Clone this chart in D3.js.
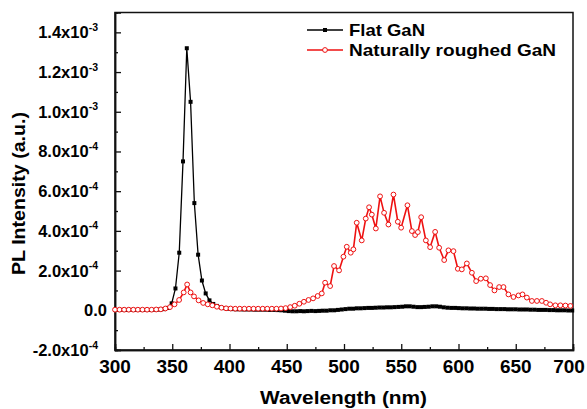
<!DOCTYPE html>
<html>
<head>
<meta charset="utf-8">
<script src="https://cdn.jsdelivr.net/npm/d3@7/dist/d3.min.js"></script>
<style>
  body { margin: 0; background: #fff; }
  svg { display: block; font-family: "Liberation Sans", Arial, sans-serif; font-weight: bold; }
</style>
</head>
<body>
<svg id="chart" width="587" height="409"></svg>
<script>
// axis ticks (intensity in units of 10^-3 a.u.)
const wavelengthTicks = [300, 350, 400, 450, 500, 550, 600, 650, 700]
const wavelengthMinor = [325, 375, 425, 475, 525, 575, 625, 675]
const intensityTicks = [-0.2, 0, 0.2, 0.4, 0.6, 0.8, 1.0, 1.2, 1.4]
const intensityMinor = [-0.1, 0.1, 0.3, 0.5, 0.7, 0.9, 1.1, 1.3]
const intensityLabels = [
  ["-2.0x10", "-4"], ["0.0", ""], ["2.0x10", "-4"], ["4.0x10", "-4"], ["6.0x10", "-4"],
  ["8.0x10", "-4"], ["1.0x10", "-3"], ["1.2x10", "-3"], ["1.4x10", "-3"]
]
const seriesNames = ["Flat GaN", "Naturally roughed GaN"]

// Flat GaN
const flatWl = [
  300.0, 303.3, 306.6, 309.9, 313.2, 316.5, 319.8, 323.1, 326.4, 329.7, 333.0, 336.3, 339.6, 342.9, 346.2,
  349.5, 352.8, 356.1, 359.4, 362.7, 366.0, 369.3, 372.6, 375.9, 379.2, 382.5, 385.8, 389.1, 392.4, 395.7, 399.0,
  402.3, 405.6, 408.9, 412.2, 415.5, 418.8, 422.1, 425.4, 428.7, 432.0, 435.3, 438.6, 441.9, 445.2, 448.5,
  451.8, 455.1, 458.4, 461.7, 465.0, 468.3, 471.6, 474.9, 478.2, 481.5, 484.8, 488.1, 491.4, 494.7, 498.0,
  501.3, 504.6, 507.9, 511.2, 514.5, 517.8, 521.1, 524.4, 527.7, 531.0, 534.3, 537.6, 540.9, 544.2, 547.5,
  550.8, 554.1, 557.4, 560.7, 564.0, 567.3, 570.6, 573.9, 577.2, 580.5, 583.8, 587.1, 590.4, 593.7, 597.0,
  600.3, 603.6, 606.9, 610.2, 613.5, 616.8, 620.1, 623.4, 626.7, 630.0, 633.3, 636.6, 639.9, 643.2, 646.5,
  649.8, 653.1, 656.4, 659.7, 663.0, 666.3, 669.6, 672.9, 676.2, 679.5, 682.8, 686.1, 689.4, 692.7, 696.0, 699.3
]
const flatPL = [
  0.002, 0.002, 0.002, 0.002, 0.002, 0.002, 0.002, 0.002, 0.002, 0.002, 0.002, 0.003, 0.004, 0.006, 0.012,
  0.035, 0.11, 0.29, 0.75, 1.32, 1.05, 0.54, 0.28, 0.15, 0.085, 0.05, 0.032, 0.022, 0.015, 0.011, 0.008,
  0.006, 0.005, 0.005, 0.004, 0.004, 0.004, 0.003, 0.003, 0.003, 0.003, 0.002, 0.002, 0.001, 0.0, -0.002,
  -0.004, -0.005, -0.005, -0.004, -0.005, -0.004, -0.003, -0.004, -0.003, -0.002, -0.002, 0.0, 0.0, 0.002, 0.004,
  0.006, 0.008, 0.008, 0.01, 0.01, 0.011, 0.012, 0.012, 0.013, 0.014, 0.014, 0.015, 0.015, 0.016, 0.017,
  0.018, 0.02, 0.02, 0.018, 0.016, 0.016, 0.017, 0.018, 0.02, 0.02, 0.018, 0.015, 0.013, 0.012, 0.012,
  0.011, 0.01, 0.01, 0.009, 0.009, 0.008, 0.008, 0.008, 0.007, 0.007, 0.006, 0.006, 0.006, 0.005, 0.005,
  0.005, 0.004, 0.004, 0.004, 0.003, 0.003, 0.002, 0.002, 0.002, 0.001, 0.001, 0.0, 0.0, 0.0, -0.001, -0.001
]

// Naturally roughed GaN
const roughedWl = [
  300, 304, 308, 312, 316, 320, 324, 328, 332, 336, 340, 344, 348, 352, 356, 360, 363, 366, 369, 373,
  377, 381, 385, 389, 393, 397, 401, 405, 409, 413, 417, 421, 425, 429, 433, 437, 441, 445, 449, 453,
  457, 461, 465, 469, 473, 477, 480.6, 483.5, 487.9, 491.3, 495.7, 499.5, 502.4, 505.9, 508.2, 511.1,
  515.5, 519, 521.9, 524.3, 527.8, 531.5, 535, 538.8, 543.2, 547, 549.9, 555.4, 559.3, 562.1, 564.5,
  567.4, 571.5, 575.2, 579.6, 583.1, 587.5, 591.2, 595.6, 599.4, 602.9, 607.3, 611.7, 615.4, 619.5,
  623.9, 627.6, 631.4, 635.5, 639.3, 643.6, 648, 652.4, 655.9, 659.7, 664.1, 668.5, 672.8, 676.5, 680,
  684.6, 689, 693.4, 697.7
]
const roughedPL = [
  0.003, 0.003, 0.003, 0.003, 0.003, 0.003, 0.003, 0.003, 0.003, 0.004, 0.005, 0.009, 0.016, 0.03, 0.052, 0.09, 0.13, 0.09, 0.07, 0.05,
  0.037, 0.03, 0.025, 0.018, 0.013, 0.01, 0.009, 0.008, 0.008, 0.008, 0.008, 0.008, 0.008, 0.008, 0.008, 0.008, 0.008, 0.009, 0.011, 0.016,
  0.023, 0.033, 0.043, 0.052, 0.06, 0.072, 0.085, 0.139, 0.122, 0.223, 0.201, 0.27, 0.32, 0.29, 0.307, 0.441,
  0.352, 0.462, 0.519, 0.482, 0.412, 0.574, 0.491, 0.432, 0.583, 0.446, 0.416, 0.529, 0.399, 0.379, 0.394,
  0.469, 0.352, 0.318, 0.395, 0.315, 0.253, 0.302, 0.298, 0.209, 0.206, 0.236, 0.189, 0.147, 0.159,
  0.161, 0.127, 0.10, 0.117, 0.117, 0.08, 0.067, 0.075, 0.08, 0.064, 0.047, 0.047, 0.047, 0.038, 0.03,
  0.025, 0.025, 0.024, 0.022
]

const svg = d3.select("#chart")
const x = d3.scaleLinear().domain([300, 700]).range([115, 573])
const y = d3.scaleLinear().domain([-0.2, 1.5]).range([350, 12.5])

const flat = flatWl.map((w, i) => ({ w, v: flatPL[i] }))
const roughed = roughedWl.map((w, i) => ({ w, v: roughedPL[i] }))

const line = d3
  .line()
  .x((d) => x(d.w))
  .y((d) => y(d.v))

// frame
svg
  .append("rect")
  .attr("x", x(300))
  .attr("y", y(1.5))
  .attr("width", x(700) - x(300))
  .attr("height", y(-0.2) - y(1.5))
  .attr("fill", "none")
  .attr("stroke", "#111")
  .attr("stroke-width", 1.5)

// axes, ticks point inward
const xAxis = svg.append("g").attr("transform", `translate(0,${y(-0.2)})`)
xAxis.call(d3.axisBottom(x).tickValues(wavelengthTicks).tickSize(-6).tickFormat(""))
xAxis.append("g").call(d3.axisBottom(x).tickValues(wavelengthMinor).tickSize(-3).tickFormat(""))
const yAxis = svg.append("g").attr("transform", `translate(${x(300)},0)`)
yAxis.call(d3.axisLeft(y).tickValues(intensityTicks).tickSize(-6).tickFormat(""))
yAxis.append("g").call(d3.axisLeft(y).tickValues(intensityMinor).tickSize(-3).tickFormat(""))
svg.selectAll(".domain").attr("stroke", "#111").attr("stroke-width", 1.5)
svg.selectAll(".tick line").attr("stroke", "#111").attr("stroke-width", 1.3)

// tick labels, last one nudged so it stays inside the page
svg
  .append("g")
  .selectAll("text")
  .data(wavelengthTicks)
  .join("text")
  .attr("x", (d) => Math.min(x(d), 569))
  .attr("y", 373)
  .attr("text-anchor", "middle")
  .style("font-size", "19px")
  .text((d) => d)

//plain "0.0" sits closer to the axis than the power-of-ten labels
const yLabels = svg
  .append("g")
  .selectAll("text")
  .data(intensityTicks)
  .join("text")
  .attr("x", (d, i) => (intensityLabels[i][1] ? 98 : 107))
  .attr("y", (d) => y(d) + 6)
  .attr("text-anchor", "end")
  .style("font-size", "16.5px")
yLabels.append("tspan").text((d, i) => intensityLabels[i][0])
yLabels
  .append("tspan")
  .attr("dy", -7.5)
  .style("font-size", "10.5px")
  .text((d, i) => intensityLabels[i][1])

// axis titles
svg
  .append("text")
  .attr("x", 343.5)
  .attr("y", 404)
  .attr("text-anchor", "middle")
  .attr("textLength", 167)
  .attr("lengthAdjust", "spacingAndGlyphs")
  .style("font-size", "17.5px")
  .text("Wavelength (nm)")
svg
  .append("text")
  .attr("transform", "translate(25,193.5) rotate(-90)")
  .attr("text-anchor", "middle")
  .attr("textLength", 163)
  .attr("lengthAdjust", "spacingAndGlyphs")
  .style("font-size", "17.5px")
  .text("PL Intensity (a.u.)")

// series
const plot = svg.append("g")
plot
  .append("path")
  .datum(flat)
  .attr("d", line)
  .attr("fill", "none")
  .attr("stroke", "#000")
  .attr("stroke-width", 1.3)
plot
  .selectAll("rect.flat")
  .data(flat)
  .join("rect")
  .attr("class", "flat")
  .attr("x", (d) => x(d.w) - 2)
  .attr("y", (d) => y(d.v) - 2)
  .attr("width", 4)
  .attr("height", 4)
  .attr("fill", "#000")

plot
  .append("path")
  .datum(roughed)
  .attr("d", line)
  .attr("fill", "none")
  .attr("stroke", "#ee1111")
  .attr("stroke-width", 1.6)
plot
  .selectAll("circle.roughed")
  .data(roughed)
  .join("circle")
  .attr("class", "roughed")
  .attr("cx", (d) => x(d.w))
  .attr("cy", (d) => y(d.v))
  .attr("r", 2.4)
  .attr("fill", "#fff")
  .attr("stroke", "#ee1111")
  .attr("stroke-width", 1)

// legend
const legend = svg.append("g")
const legendY = [30, 50]
const legendColor = ["#000", "#ee1111"]
legend
  .selectAll("line")
  .data(seriesNames)
  .join("line")
  .attr("x1", 307)
  .attr("x2", 343)
  .attr("y1", (d, i) => legendY[i])
  .attr("y2", (d, i) => legendY[i])
  .attr("stroke", (d, i) => legendColor[i])
  .attr("stroke-width", 1.3)
legend
  .append("rect")
  .attr("x", 323)
  .attr("y", legendY[0] - 2)
  .attr("width", 4)
  .attr("height", 4)
  .attr("fill", "#000")
legend
  .append("circle")
  .attr("cx", 325)
  .attr("cy", legendY[1])
  .attr("r", 2.4)
  .attr("fill", "#fff")
  .attr("stroke", "#ee1111")
legend
  .selectAll("text")
  .data(seriesNames)
  .join("text")
  .attr("x", 349)
  .attr("y", (d, i) => legendY[i] + 6)
  .attr("textLength", (d, i) => [76, 207][i])
  .attr("lengthAdjust", "spacingAndGlyphs")
  .style("font-size", "17px")
  .text((d) => d)
</script>
</body>
</html>
